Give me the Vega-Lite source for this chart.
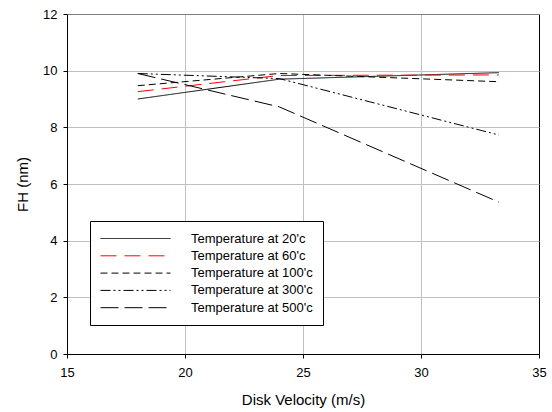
{
  "$schema": "https://vega.github.io/schema/vega-lite/v6.json",
  "width": 472,
  "height": 340,
  "autosize": {"type": "none"},
  "padding": {"left": 67, "top": 14, "right": 13, "bottom": 58},
  "background": "white",
  "config": {
    "view": {"stroke": null},
    "font": "Liberation Sans",
    "legend": {
      "symbolType": "M-5,0H5",
      "symbolSize": 196,
      "symbolStrokeWidth": 1,
      "symbolOffset": 28,
      "labelFontSize": 13,
      "labelFont": "Liberation Sans",
      "labelColor": "black",
      "labelOffset": 48,
      "strokeColor": "black",
      "fillColor": "white",
      "padding": 10,
      "rowPadding": 2.3,
      "labelLimit": 300
    }
  },
  "data": {
    "values": [
      {"v": 18, "fh": 9.0, "s": "Temperature at 20'c"},
      {"v": 24, "fh": 9.7, "s": "Temperature at 20'c"},
      {"v": 33.3, "fh": 9.93, "s": "Temperature at 20'c"},
      {"v": 18, "fh": 9.26, "s": "Temperature at 60'c"},
      {"v": 24, "fh": 9.83, "s": "Temperature at 60'c"},
      {"v": 33.3, "fh": 9.85, "s": "Temperature at 60'c"},
      {"v": 18, "fh": 9.47, "s": "Temperature at 100'c"},
      {"v": 24, "fh": 9.9, "s": "Temperature at 100'c"},
      {"v": 33.3, "fh": 9.61, "s": "Temperature at 100'c"},
      {"v": 18, "fh": 9.9, "s": "Temperature at 300'c"},
      {"v": 24, "fh": 9.72, "s": "Temperature at 300'c"},
      {"v": 33.3, "fh": 7.73, "s": "Temperature at 300'c"},
      {"v": 18, "fh": 9.9, "s": "Temperature at 500'c"},
      {"v": 24, "fh": 8.72, "s": "Temperature at 500'c"},
      {"v": 33.3, "fh": 5.36, "s": "Temperature at 500'c"}
    ]
  },
  "mark": {"type": "line", "strokeWidth": 1},
  "encoding": {
    "x": {
      "field": "v",
      "type": "quantitative",
      "scale": {"domain": [15, 35], "nice": false, "zero": false},
      "axis": {
        "values": [15, 20, 25, 30, 35],
        "title": "Disk Velocity (m/s)",
        "titleFontSize": 15,
        "titleFontWeight": "normal",
        "titleColor": "black",
        "titlePadding": 13,
        "labelFontSize": 13,
        "labelColor": "black",
        "labelPadding": 8,
        "tickSize": 4,
        "tickColor": "black",
        "domainColor": "black",
        "grid": true,
        "gridColor": {"condition": {"test": "datum.value === 35", "value": "black"}, "value": "#c0c0c0"},
        "labelFlush": false
      }
    },
    "y": {
      "field": "fh",
      "type": "quantitative",
      "scale": {"domain": [0, 12], "nice": false},
      "axis": {
        "values": [0, 2, 4, 6, 8, 10, 12],
        "title": "FH (nm)",
        "titleFontSize": 15,
        "titleFontWeight": "normal",
        "titleColor": "black",
        "titlePadding": 12,
        "labelFontSize": 13,
        "labelColor": "black",
        "labelPadding": 6,
        "tickSize": 4,
        "tickColor": "black",
        "domainColor": "black",
        "grid": true,
        "gridColor": {"condition": {"test": "datum.value === 12", "value": "#808080"}, "value": "#c0c0c0"},
        "labelFlush": false
      }
    },
    "color": {
      "field": "s",
      "type": "nominal",
      "scale": {
        "domain": ["Temperature at 20'c", "Temperature at 60'c", "Temperature at 100'c", "Temperature at 300'c", "Temperature at 500'c"],
        "range": ["black", "red", "black", "black", "black"]
      },
      "legend": {
        "orient": "none", "legendX": 23, "legendY": 207, "title": null,
        "encode": {"symbols": {"update": {"stroke": {"scale": "color", "field": "value"}}}}
      }
    },
    "strokeDash": {
      "field": "s",
      "type": "nominal",
      "scale": {
        "domain": ["Temperature at 20'c", "Temperature at 60'c", "Temperature at 100'c", "Temperature at 300'c", "Temperature at 500'c"],
        "range": [[1, 0], [16, 8], [7, 4], [10, 3, 2, 3, 2, 3], [18, 6]]
      },
      "legend": {
        "orient": "none", "legendX": 23, "legendY": 207, "title": null,
        "encode": {"symbols": {"update": {"stroke": {"scale": "color", "field": "value"}}}}
      }
    }
  }
}
